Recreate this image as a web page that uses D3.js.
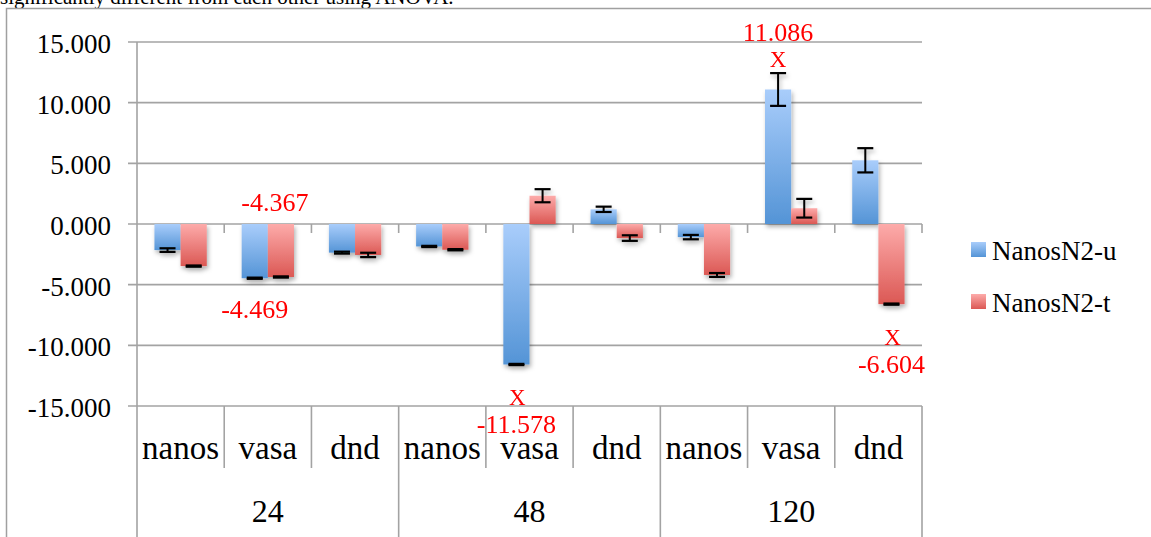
<!DOCTYPE html>
<html>
<head>
<meta charset="utf-8">
<script src="https://cdn.jsdelivr.net/npm/d3@7"></script>
<style>
    body { margin: 0; background: #fff; }
    svg { display: block; font-family: "Liberation Serif", serif; }
</style>
</head>
<body>
<div id="chart"></div>
<script>
// data
var groups = ["24", "48", "120"];
var genes = ["nanos", "vasa", "dnd"];
var seriesNames = ["NanosN2-u", "NanosN2-t"];
var uMeans = [-2.15, -4.469, -2.36, -1.85, -11.578, 1.21, -1.08, 11.086, 5.25];
var uErr = [0.15, 0.05, 0.08, 0.05, 0.05, 0.22, 0.18, 1.35, 1.0];
var tMeans = [-3.47, -4.367, -2.55, -2.12, 2.33, -1.16, -4.2, 1.3, -6.604];
var tErr = [0.05, 0.05, 0.18, 0.05, 0.54, 0.23, 0.16, 0.77, 0.05];
var yTicks = [-15, -10, -5, 0, 5, 10, 15];
// red notes: [category index, series index, text, side]
var notes = [
    [1, 1, "-4.367", "above"],
    [1, 0, "-4.469", "below"],
    [4, 0, "-11.578", "belowX"],
    [7, 0, "11.086", "aboveX"],
    [8, 1, "-6.604", "belowX"]
];

var width = 1151,
    height = 537,
    plot = { left: 137, right: 922, top: 42, bottom: 406 };

var svg = d3.select("#chart")
    .append("svg")
    .attr("width", width)
    .attr("height", height);

var defs = svg.append("defs");

function grad(id, c1, c2) {
    var g = defs.append("linearGradient")
        .attr("id", id)
        .attr("x1", 0).attr("y1", 0)
        .attr("x2", 0).attr("y2", 1);
    g.append("stop").attr("offset", "0%").attr("stop-color", c1);
    g.append("stop").attr("offset", "100%").attr("stop-color", c2);
}
grad("g-u", "#a9cdfb", "#5494d6");
grad("g-t", "#fdabaa", "#db5854");

defs.append("filter")
    .attr("id", "shadow")
    .attr("x", "-30%").attr("y", "-30%")
    .attr("width", "160%").attr("height", "160%")
    .append("feDropShadow")
    .attr("dx", 1.5).attr("dy", 3)
    .attr("stdDeviation", 2.2)
    .attr("flood-color", "#000")
    .attr("flood-opacity", 0.3);

// caption text above the frame (cut by the page top, as in the source)
svg.append("text")
    .attr("x", 0)
    .attr("y", 4)
    .style("font-size", "21px")
    .style("fill", "#000")
    .text("significantly different from each other using ANOVA.");

// outer frame
svg.append("path")
    .attr("d", "M6.5," + height + "V8.5H" + width)
    .attr("fill", "none")
    .attr("stroke", "#a0a0a0")
    .attr("stroke-width", 1.5);

// build category keys
var cats = [];
groups.forEach(function (g) {
    genes.forEach(function (n) {
        cats.push(g + "|" + n);
    });
});

var x = d3.scaleBand()
    .domain(cats)
    .range([plot.left, plot.right]);

var xs = d3.scaleBand()
    .domain([0, 1])
    .range([x.bandwidth() * 0.2, x.bandwidth() * 0.8]);

var y = d3.scaleLinear()
    .domain([-15, 15])
    .range([plot.bottom, plot.top]);

var fmt = function (d) {
    return d3.format(".3f")(d).replace("\u2212", "-");
};

var gridColor = "#a3a3a3";

// grid lines + y labels
svg.selectAll(".grid")
    .data(yTicks)
    .enter().append("line")
    .attr("class", "grid")
    .attr("x1", plot.left - 9)
    .attr("x2", plot.right)
    .attr("y1", d => y(d))
    .attr("y2", d => y(d))
    .attr("stroke", gridColor)
    .attr("stroke-width", 1.6);

svg.selectAll(".ylab")
    .data(yTicks)
    .enter().append("text")
    .attr("class", "ylab")
    .attr("x", 111)
    .attr("y", d => y(d) + 11)
    .attr("text-anchor", "end")
    .style("font-size", "27px")
    .text(fmt);

// y axis line
svg.append("line")
    .attr("x1", plot.left).attr("x2", plot.left)
    .attr("y1", plot.top).attr("y2", height)
    .attr("stroke", gridColor)
    .attr("stroke-width", 1.6);

// small ticks under zero line
svg.selectAll(".ztick")
    .data(cats.slice(1).concat(["end"]))
    .enter().append("line")
    .attr("class", "ztick")
    .attr("x1", d => d == "end" ? plot.right : x(d))
    .attr("x2", d => d == "end" ? plot.right : x(d))
    .attr("y1", y(0))
    .attr("y2", y(0) + 9)
    .attr("stroke", gridColor)
    .attr("stroke-width", 1.6);

// category table lines
svg.selectAll(".catline")
    .data(cats.slice(1).concat(["end"]))
    .enter().append("line")
    .attr("class", "catline")
    .attr("x1", d => d == "end" ? plot.right : x(d))
    .attr("x2", d => d == "end" ? plot.right : x(d))
    .attr("y1", plot.bottom)
    .attr("y2", (d, i) => (i % 3 == 2) ? height : 468)
    .attr("stroke", gridColor)
    .attr("stroke-width", 1.6);

svg.selectAll(".catlab")
    .data(cats)
    .enter().append("text")
    .attr("class", "catlab")
    .attr("x", d => x(d) + x.bandwidth() / 2)
    .attr("y", 459)
    .attr("text-anchor", "middle")
    .style("font-size", "33px")
    .text(d => d.split("|")[1]);

svg.selectAll(".grplab")
    .data(groups)
    .enter().append("text")
    .attr("class", "grplab")
    .attr("x", (d, i) => x(cats[i * 3]) + x.bandwidth() * 1.5)
    .attr("y", 522)
    .attr("text-anchor", "middle")
    .style("font-size", "32px")
    .text(d => d);

// bars
var bars = [];
cats.forEach(function (c, i) {
    bars.push({ cat: c, s: 0, v: uMeans[i], e: uErr[i] });
    bars.push({ cat: c, s: 1, v: tMeans[i], e: tErr[i] });
});

var barG = svg.append("g").attr("filter", "url(#shadow)");

barG.selectAll(".bar")
    .data(bars)
    .enter().append("rect")
    .attr("class", "bar")
    .attr("x", d => x(d.cat) + xs(d.s))
    .attr("width", xs.bandwidth())
    .attr("y", d => y(Math.max(0, d.v)))
    .attr("height", d => Math.abs(y(d.v) - y(0)))
    .attr("fill", d => d.s == 0 ? "url(#g-u)" : "url(#g-t)");

// error bars
var eb = barG.selectAll(".err")
    .data(bars)
    .enter().append("g")
    .attr("class", "err")
    .attr("transform", d => "translate(" + (x(d.cat) + xs(d.s) + xs.bandwidth() / 2) + ",0)");

eb.append("line")
    .attr("y1", d => y(d.v + d.e))
    .attr("y2", d => y(d.v - d.e))
    .attr("stroke", "#000")
    .attr("stroke-width", 2);

eb.selectAll(".cap")
    .data(d => [d.v + d.e, d.v - d.e])
    .enter().append("line")
    .attr("class", "cap")
    .attr("x1", -8)
    .attr("x2", 8)
    .attr("y1", d => y(d))
    .attr("y2", d => y(d))
    .attr("stroke", "#000")
    .attr("stroke-width", 2.2);

// red annotations
var noteG = svg.append("g")
    .style("fill", "#ff0000")
    .style("font-size", "26px")
    .attr("text-anchor", "middle");

notes.forEach(function (n) {
    var cat = cats[n[0]];
    var v = n[1] == 0 ? uMeans[n[0]] : tMeans[n[0]];
    var cx = x(cat) + xs(n[1]) + xs.bandwidth() / 2;
    if (n[3] == "above") {
        noteG.append("text").attr("x", cx - 6).attr("y", y(0) - 13).text(n[2]);
    } else if (n[3] == "below") {
        noteG.append("text").attr("x", cx).attr("y", y(-5) + 33).text(n[2]);
    } else if (n[3] == "belowX") {
        var b = y(v);
        noteG.append("text").attr("x", cx + 1).attr("y", b + 41).style("font-size", "23px").text("X");
        noteG.append("text").attr("x", cx).attr("y", b + 69).text(n[2]);
    } else {
        var t = y(v + (n[1] == 0 ? uErr[n[0]] : tErr[n[0]]));
        noteG.append("text").attr("x", cx).attr("y", t - 6).style("font-size", "23px").text("X");
        noteG.append("text").attr("x", cx).attr("y", t - 32).text(n[2]);
    }
});

// legend
var leg = svg.selectAll(".leg")
    .data(seriesNames)
    .enter().append("g")
    .attr("class", "leg")
    .attr("transform", (d, i) => "translate(971," + (242 + i * 52) + ")");

leg.append("rect")
    .attr("width", 15)
    .attr("height", 15)
    .attr("fill", (d, i) => i == 0 ? "url(#g-u)" : "url(#g-t)");

leg.append("text")
    .attr("x", 21)
    .attr("y", 18)
    .style("font-size", "27px")
    .text(d => d);
</script>
</body>
</html>
